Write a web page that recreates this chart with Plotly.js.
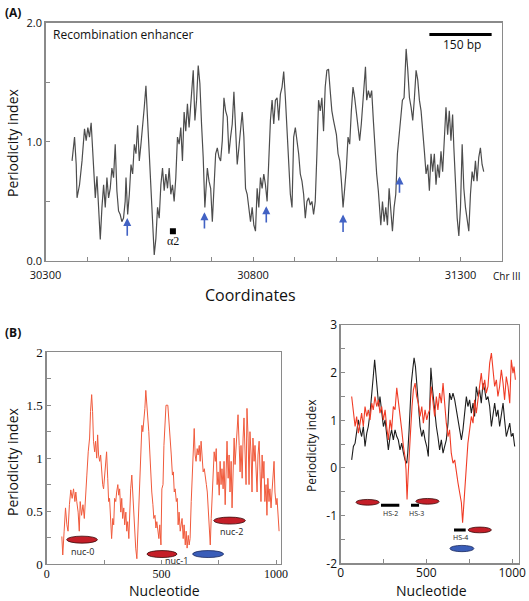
<!DOCTYPE html>
<html><head><meta charset="utf-8">
<script src="https://cdn.plot.ly/plotly-3.0.1.min.js"></script>
<style>html,body{margin:0;padding:0;background:#fff}#chart{width:529px;height:601px}</style>
</head><body><div id="chart"></div>
<script>
// ---------- Panel A: Recombination enhancer ----------
var coordA = [30364,30368,30370,30374,30376,30382,30388,30394,30398,30402,30406,30410,30412,30416,30420,30424,30428,30432,30436,30440,
30444,30448,30452,30456,30460,30464,30468,30472,30476,30480,30484,30488,30492,30494,30498,30502,30506,30510,30514,30518,
30522,30526,30530,30534,30538,30542,30546,30550,30554,30558,30562,30566,30570,30574,30578,30582,30586,30590,30594,30598,
30602,30606,30610,30614,30618,30622,30626,30630,30634,30638,30642,30646,30650,30654,30656,30660,30664,30668,30672,30676,30680,30684,
30687,30690,30694,30698,30702,30706,30710,30714,30718,30722,30726,30730,30734,30738,30742,30746,30750,30754,30758,30762,
30766,30770,30774,30778,30782,30786,30790,30794,30798,30802,30806,30810,30814,30818,30822,30826,30830,30834,30838,30842,
30846,30850,30854,30858,30862,30866,30870,30874,30878,30882,30886,30890,30894,30898,30902,30906,30910,30914,30918,30922,
30926,30930,30934,30938,30942,30946,30950,30954,30958,30962,30966,30970,30974,30978,30982,30986,30990,30994,30998,
31001,31005,31009,31013,31017,31021,31025,31029,31033,31037,31041,31045,31049,31053,31057,31061,31065,31068,31071,31074,
31078,31082,31086,31090,31094,31098,31102,31106,31108,31112,31116,31120,31124,31128,31132,31136,31140,31144,31148,31152,
31156,31160,31164,31166,31169,31173,31177,31181,31185,31189,31193,31197,31201,31205,31209,31213,31217,31221,31225,31229,
31233,31237,31241,31245,31249,31253,31257,31261,31265,31269,31273,31277,31281,31284,31288,31292,31296,31300,31304,31308,
31312,31316,31320,31324,31328,31332,31336,31340,31344,31348,31352,31356];
var periodA = [0.84,0.95,1.04,0.81,0.53,0.64,0.84,1.11,1.01,1.12,1.04,1.16,1.01,0.81,0.53,0.71,0.45,0.18,0.45,0.64,
0.45,0.70,0.53,0.61,0.78,0.70,0.98,0.59,0.42,0.39,0.33,0.36,0.50,0.70,0.39,0.56,0.81,0.73,0.98,0.90,
1.14,0.84,0.98,1.12,1.29,1.47,1.18,0.87,0.67,0.39,0.05,0.19,0.45,0.36,0.64,0.78,0.59,0.73,0.61,0.78,
0.56,0.64,0.50,0.70,1.04,0.98,1.12,0.84,1.25,1.09,1.32,1.12,1.32,1.47,1.60,1.18,1.35,1.64,1.49,1.15,0.87,0.45,
0.61,0.78,0.67,0.61,0.33,0.67,0.90,0.95,0.87,0.84,1.01,1.37,1.26,1.21,0.90,1.04,1.15,1.42,1.09,0.81,
0.95,1.09,1.25,1.04,0.61,0.56,0.42,0.33,0.45,0.30,0.25,0.61,0.45,0.70,0.61,0.73,0.64,0.50,0.84,1.18,
1.35,1.15,1.35,1.37,1.18,1.40,1.46,1.59,1.37,1.12,0.84,0.56,0.45,1.04,1.12,1.01,0.90,0.73,0.67,0.56,
0.36,0.50,0.53,0.47,0.50,0.39,0.50,0.90,1.35,1.26,1.37,1.09,1.46,1.60,1.61,1.43,1.26,1.18,1.09,
1.06,0.90,0.84,0.67,0.45,0.61,0.78,1.04,0.98,1.26,1.46,1.37,1.23,1.09,1.01,1.15,1.35,1.49,1.63,1.35,
1.43,1.37,1.43,1.18,0.90,0.73,0.59,0.39,0.30,0.50,0.33,0.45,0.30,0.61,0.42,0.25,0.45,0.56,0.90,1.06,
1.21,1.35,1.37,1.57,1.78,1.60,1.37,1.29,1.18,1.37,1.60,1.52,1.35,1.26,1.12,0.92,0.73,0.81,0.59,0.90,
0.75,0.90,0.64,0.81,0.70,0.92,0.75,1.06,1.29,1.06,1.26,1.01,1.23,0.95,0.67,0.36,0.21,0.45,0.98,0.61,
0.45,0.33,0.25,0.56,0.75,0.67,0.84,0.67,0.87,0.95,0.81,0.75];
var arrowCoord = [30497,30683,30832,31017,31153];
var arrowTip   = [0.36,0.41,0.46,0.39,0.71];
var arrowTail  = [0.20,0.26,0.31,0.23,0.56];
var alpha2Coord = [30607], alpha2Val = [0.25];
var scaleBar = {start:31225, length:150, y:1.90, label:'150 bp'};

// ---------- Panel B left ----------
var nucL = [66,70,76,82,88,93,99,105,111,117,123,127,131,137,142,146,152,158,164,169,
175,181,187,191,196,200,204,209,213,218,222,226,231,235,239,244,248,253,257,261,
266,270,274,279,283,288,292,296,301,305,310,314,318,323,327,331,336,340,345,349,
353,358,362,366,371,375,380,384,388,393,397,402,406,410,415,419,423,428,432,437,
441,445,450,454,458,463,467,472,476,480,485,489,493,498,502,507,511,515,520,
528,534,538,543,548,552,556,560,565,569,573,577,582,586,590,595,599,604,608,612,
617,621,625,630,634,638,643,647,651,656,660,665,669,673,678,682,687,691,696,700,
704,709,713,717,722,726,730,735,739,743,747,752,756,760,764,769,773,778,782,786,
791,795,799,804,808,812,817,821,825,830,834,839,843,847,852,856,860,865,869,873,
878,882,886,891,895,899,904,908,912,917,921,926,930,934,939,943,947,951,956,960,
964,969,973,978,982,987,991,995,1000,1004,1008,1013];
var periodL = [0.26,0.085,0.31,0.53,0.37,0.31,0.56,0.70,0.62,0.71,0.59,0.68,0.59,0.49,0.31,0.59,0.46,0.56,0.43,0.68,
0.84,1.06,1.19,1.44,1.60,1.44,1.16,1.06,1.16,1.00,1.22,1.03,0.97,1.03,0.87,0.75,0.71,0.87,0.97,1.06,
0.81,0.59,0.62,0.43,0.24,0.43,0.37,0.62,0.59,0.68,0.75,0.65,0.71,0.49,0.62,0.43,0.53,0.37,0.49,0.31,
0.40,0.24,0.49,0.71,0.84,0.68,0.40,0.21,0.15,0.05,0.31,0.59,0.90,1.12,1.31,1.25,1.34,1.47,1.64,1.50,
1.44,1.25,1.03,0.81,0.68,0.56,0.43,0.46,0.34,0.40,0.27,0.24,0.37,0.18,0.71,0.75,1.12,1.34,1.50,
1.50,1.34,1.25,1.03,0.84,0.87,0.68,0.71,0.59,0.62,0.37,0.49,0.31,0.37,0.43,0.24,0.37,0.18,0.31,0.15,
0.27,0.18,0.24,0.59,0.87,1.12,1.28,1.03,0.97,1.09,1.03,1.12,0.97,1.16,1.00,0.87,0.90,0.81,0.75,0.68,
0.49,0.37,0.18,0.43,0.65,0.81,1.06,0.97,1.09,0.75,0.87,0.65,0.97,0.75,0.90,0.71,0.97,0.56,0.90,1.16,
0.81,1.03,0.68,0.97,0.53,0.87,1.19,0.94,1.12,1.31,1.41,1.12,0.87,1.12,0.81,1.19,1.38,1.03,0.75,1.47,
1.19,0.75,1.25,1.03,0.68,1.19,0.97,1.12,0.87,0.68,1.03,1.16,0.87,0.59,1.03,0.81,0.97,0.59,0.75,0.46,
0.81,0.59,0.71,0.53,0.68,0.81,0.97,0.68,0.56,0.62,0.49,0.31];
var nucLeftNames = ['nuc-0','nuc-1','nuc-2'];
var nucLeftStart = [87,437,728];
var nucLeftEnd   = [221,568,866];
var nucLeftY     = [0.23,0.094,0.41];
var nucLeftLabelX = [154,567,805];
var nucLeftLabelY = [0.12,0.03,0.305];
var blueLeft = {start:636, end:771, y:0.094};

// ---------- Panel B right ----------
var nucRBlack = [64,74,84,93,103,113,122,132,142,152,161,171,181,190,198,206,214,222,229,239,
249,259,268,278,288,297,307,317,327,336,346,356,366,375,385,391,399,404,412,420,
428,436,443,453,463,473,482,492,502,511,519,526,536,548,558,567,577,587,597,606,
616,626,635,645,655,665,674,684,694,704,713,723,733,742,752,762,772,781,791,801,
810,820,830,840,849,859,869,879,888,898,908,917,927,937,947,956,966,976,986,995,1005,1015];
var periodRBlack = [0.17,0.45,0.52,0.80,1.01,0.80,0.66,0.87,0.45,0.73,0.87,1.15,1.50,1.92,2.27,1.92,1.64,1.29,1.50,1.15,
0.87,1.01,0.66,0.38,0.66,0.80,0.59,0.80,0.66,0.59,0.38,0.52,0.31,0.17,0.10,0.31,0.80,1.36,1.78,2.06,
2.31,2.13,1.78,1.29,0.87,0.66,0.80,0.59,0.45,0.24,1.40,2.10,1.64,1.15,0.87,0.66,0.38,0.59,0.31,0.45,
0.59,0.94,1.57,1.43,1.57,1.43,1.22,0.94,0.80,0.59,0.80,1.15,1.50,1.29,1.43,1.15,1.36,1.08,1.71,1.50,
1.64,1.36,1.78,1.64,1.43,1.50,1.29,0.87,1.15,1.36,1.08,1.22,0.87,1.15,1.36,1.01,0.66,0.80,0.94,0.66,0.73,0.45];
var nucRRed = [64,74,84,93,103,113,122,132,142,152,161,171,181,190,200,210,220,229,239,249,
259,268,278,288,297,307,317,327,336,346,356,366,375,381,387,393,401,408,416,424,
434,443,453,463,473,482,492,502,511,519,528,538,548,558,567,577,587,597,606,616,
626,635,645,655,665,674,684,694,704,711,719,727,735,742,752,762,772,781,791,801,
810,820,830,840,849,859,869,879,888,898,908,917,927,937,947,956,966,976,986,995,1005,1011,1019];
var periodRRed = [1.50,1.22,0.87,1.08,0.73,0.94,1.15,0.87,1.29,1.08,1.22,1.01,1.36,1.22,1.50,1.29,1.43,1.15,1.29,1.01,
1.22,0.87,0.59,1.01,0.80,1.29,1.22,1.68,1.36,1.08,0.80,0.45,0.24,-0.03,-0.66,-0.17,0.24,0.80,1.29,1.64,
1.78,1.50,1.36,1.08,1.29,0.94,1.22,1.01,1.15,1.22,1.71,1.43,1.08,1.50,1.22,1.57,1.36,1.78,1.29,0.94,
0.66,0.80,0.31,0.10,0.17,-0.10,-0.31,-0.52,-0.73,-1.15,-0.73,-0.31,0.10,0.52,0.80,1.08,0.94,1.43,1.15,1.50,
1.71,1.99,1.64,1.85,1.57,1.71,2.20,2.41,2.06,1.71,1.85,1.50,1.71,2.06,1.78,1.43,1.92,1.71,1.36,2.27,1.99,2.13,1.85];
var nucRightCenter = [157,506,811];
var nucRightY      = [-0.72,-0.70,-1.30];
var nucRightHalf   = 68;
var blueRight = {center:707, y:-1.69, half:70};
var hsNames = ['HS-2','HS-3','HS-4'];
var hsStart = [235,410,661];
var hsEnd   = [342,457,729];
var hsY     = [-0.78,-0.78,-1.30];
var hsLabelX = [288,440,700];
var hsLabelY = [-0.96,-0.96,-1.45];

// ---------- build ----------
var W = 529, H = 601;
function px(x){return x/W;}
function py(y){return 1 - y/H;}
var frameCol = '#8a8a8a';
var sans = 'Open Sans, Liberation Sans, sans-serif';
var serif = 'Liberation Serif, DejaVu Serif, serif';

var traces = [
  {x:coordA, y:periodA, xaxis:'x', yaxis:'y', mode:'lines', line:{color:'#4d4d4d', width:1.2}, hoverinfo:'skip'},
  {x:alpha2Coord, y:alpha2Val, xaxis:'x', yaxis:'y', mode:'markers', marker:{symbol:'square', size:6, color:'#000'}, hoverinfo:'skip'},
  {x:nucL, y:periodL, xaxis:'x2', yaxis:'y2', mode:'lines', line:{color:'#f05a3c', width:1}, hoverinfo:'skip'},
  {x:nucRBlack, y:periodRBlack, xaxis:'x3', yaxis:'y3', mode:'lines', line:{color:'#1e1e1e', width:1.1}, hoverinfo:'skip'},
  {x:nucRRed, y:periodRRed, xaxis:'x3', yaxis:'y3', mode:'lines', line:{color:'#f03c26', width:1.1}, hoverinfo:'skip'}
];

var shapes = [];
var annotations = [];
// scale bar
shapes.push({type:'line', xref:'x', yref:'y', x0:scaleBar.start, x1:scaleBar.start+scaleBar.length, y0:scaleBar.y, y1:scaleBar.y, line:{color:'#000', width:3}});
annotations.push({xref:'x', yref:'y', x:scaleBar.start+scaleBar.length/2+3, y:scaleBar.y-0.08, text:scaleBar.label, showarrow:false, font:{family:sans, size:12, color:'#111'}});
// blue arrows
for (var i=0;i<arrowCoord.length;i++){
  annotations.push({xref:'x', yref:'y', axref:'x', ayref:'y', x:arrowCoord[i], y:arrowTip[i], ax:arrowCoord[i], ay:arrowTail[i], text:'', showarrow:true, arrowhead:2, arrowsize:1, arrowwidth:1.6, arrowcolor:'#4262c4'});
}
annotations.push({xref:'x', yref:'y', x:alpha2Coord[0], y:alpha2Val[0]-0.085, text:'α2', showarrow:false, font:{family:serif, size:12, color:'#111'}});
annotations.push({xref:'x', yref:'y', x:30314, y:1.90, xanchor:'left', text:'Recombination enhancer', showarrow:false, font:{family:sans, size:12, color:'#111'}});

// left B ellipses
var eh = 0.033;
for (var i=0;i<nucLeftStart.length;i++){
  shapes.push({type:'circle', xref:'x2', yref:'y2', x0:nucLeftStart[i], x1:nucLeftEnd[i], y0:nucLeftY[i]-eh, y1:nucLeftY[i]+eh, fillcolor:'#c41e28', line:{color:'#3a0a0a', width:0.8}});
  annotations.push({xref:'x2', yref:'y2', x:nucLeftLabelX[i], y:nucLeftLabelY[i], text:nucLeftNames[i], showarrow:false, font:{family:sans, size:9, color:'#222'}});
}
shapes.push({type:'circle', xref:'x2', yref:'y2', x0:blueLeft.start, x1:blueLeft.end, y0:blueLeft.y-eh, y1:blueLeft.y+eh, fillcolor:'#3a5db8', line:{color:'#1a2a60', width:0.8}});

// right B ellipses and HS bars
var eh3 = 0.06;
for (var i=0;i<nucRightCenter.length;i++){
  shapes.push({type:'circle', xref:'x3', yref:'y3', x0:nucRightCenter[i]-nucRightHalf, x1:nucRightCenter[i]+nucRightHalf, y0:nucRightY[i]-eh3, y1:nucRightY[i]+eh3, fillcolor:'#c41e28', line:{color:'#3a0a0a', width:0.8}});
}
shapes.push({type:'circle', xref:'x3', yref:'y3', x0:blueRight.center-blueRight.half, x1:blueRight.center+blueRight.half, y0:blueRight.y-0.066, y1:blueRight.y+0.066, fillcolor:'#3a5db8', line:{color:'#1a2a60', width:0.8}});
for (var i=0;i<hsStart.length;i++){
  shapes.push({type:'line', xref:'x3', yref:'y3', x0:hsStart[i], x1:hsEnd[i], y0:hsY[i], y1:hsY[i], line:{color:'#000', width:3}});
  annotations.push({xref:'x3', yref:'y3', x:hsLabelX[i], y:hsLabelY[i], text:hsNames[i], showarrow:false, font:{family:sans, size:7, color:'#222'}});
}

// panel labels and axis titles
function txt(x, y, t, size, opts){
  var a = {xref:'paper', yref:'paper', x:px(x), y:py(y), text:t, showarrow:false, xanchor:'center', yanchor:'middle', font:{family:sans, size:size, color:'#111'}};
  if (opts) for (var k in opts) a[k]=opts[k];
  annotations.push(a);
}
txt(3, 13, '(A)', 12, {xanchor:'left', font:{family:sans, size:12, color:'#111', weight:'bold'}});
txt(3, 332, '(B)', 12, {xanchor:'left', font:{family:sans, size:12, color:'#111', weight:'bold'}});
txt(250, 295, 'Coordinates', 16);
txt(12, 143, 'Periodicity index', 14, {textangle:-90});
txt(507, 276, 'Chr III', 10);
txt(164, 590, 'Nucleotide', 14);
txt(12, 462, 'Periodicity index', 14, {textangle:-90});
txt(431, 590, 'Nucleotide', 14);
txt(311, 446, 'Periodicity index', 12, {textangle:-90});

function frame(extra){
  var a = {showline:true, mirror:true, linecolor:frameCol, linewidth:1.3, ticks:'inside', ticklen:4, tickcolor:frameCol, tickwidth:1, showgrid:false, zeroline:false, fixedrange:true};
  for (var k in extra) a[k]=extra[k];
  return a;
}

var layout = {
  width:W, height:H, margin:{l:0,r:0,t:0,b:0}, paper_bgcolor:'#fff', plot_bgcolor:'#fff', showlegend:false,
  xaxis: frame({domain:[px(45.5), px(502)], anchor:'y', range:[30300,31400], tick0:30300, dtick:500, tickformat:'d',
    ticklabelstandoff:3,
    minor:{dtick:100, tick0:30300, ticks:'inside', ticklen:4, tickcolor:frameCol},
    tickfont:{family:sans, size:11, color:'#111'}}),
  yaxis: frame({domain:[py(261), py(22.7)], anchor:'x', range:[0,2], tick0:0, dtick:1, tickformat:'.1f',
    minor:{dtick:0.5, ticks:'inside', ticklen:4, tickcolor:frameCol},
    tickfont:{family:sans, size:11, color:'#111'}}),
  xaxis2: frame({domain:[px(46.7), px(280.7)], anchor:'y2', range:[0,1020], tick0:0, dtick:500,
    ticklabelstandoff:-2,
    minor:{dtick:250, ticks:'inside', ticklen:4, tickcolor:frameCol},
    tickfont:{family:serif, size:12, color:'#111'}}),
  yaxis2: frame({domain:[py(564), py(352.3)], anchor:'x2', range:[0,2], tick0:0, dtick:0.5,
    minor:{dtick:0.25, ticks:'inside', ticklen:4, tickcolor:frameCol},
    tickfont:{family:serif, size:13, color:'#111'}}),
  xaxis3: frame({domain:[px(340.7), px(519)], anchor:'y3', range:[0,1040], tick0:0, dtick:500,
    ticklabelstandoff:-2,
    minor:{dtick:250, ticks:'inside', ticklen:4, tickcolor:frameCol},
    tickfont:{family:sans, size:12, color:'#111'}}),
  yaxis3: frame({domain:[py(563.3), py(325)], anchor:'x3', range:[-2,3], tickmode:'array',
    tickvals:[-2,-1,0,1,2,3], ticktext:['-2','-1','0','1','2','3'],
    minor:{tickmode:'linear', tick0:-2, dtick:0.5, ticks:'inside', ticklen:4, tickcolor:frameCol},
    tickfont:{family:sans, size:12, color:'#111'}}),
  shapes: shapes,
  annotations: annotations
};

Plotly.newPlot('chart', traces, layout, {staticPlot:true, displayModeBar:false});
</script></body></html>
